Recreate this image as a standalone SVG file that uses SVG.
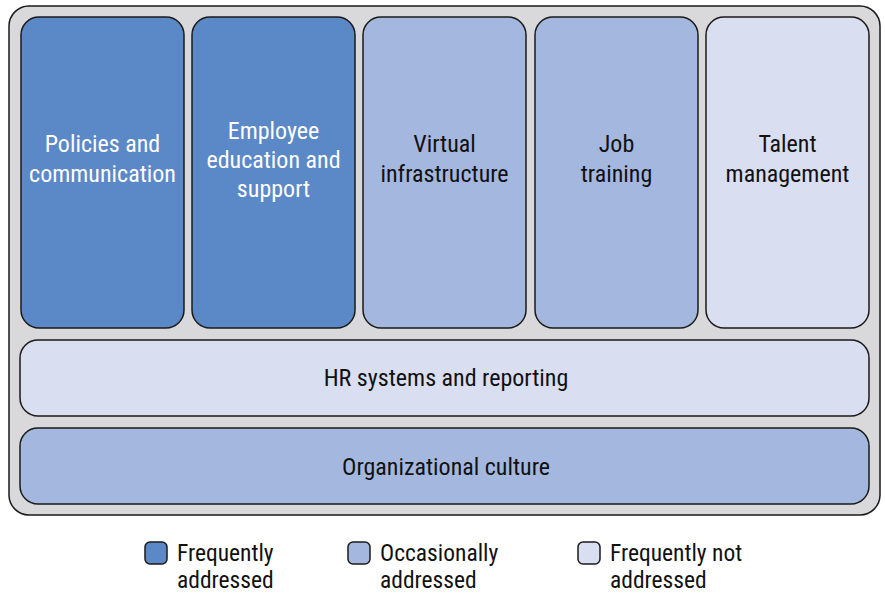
<svg xmlns="http://www.w3.org/2000/svg" width="885" height="594" viewBox="0 0 885 594">
<style>
.box{stroke:#1a1a1a;stroke-width:1.5}
.d{fill:#5b88c6}.m{fill:#a4b8df}.l{fill:#d9def1}
text{font-family:"Liberation Sans Narrow","Roboto Condensed","Liberation Sans",sans-serif;font-size:24px;text-anchor:middle}
.w{fill:#ffffff}.k{fill:#111111}
.lg{text-anchor:start;font-size:23.5px}
</style>
<rect x="9" y="6" width="871" height="509" rx="20" fill="#d9d9db" stroke="#1a1a1a" stroke-width="1.5"/>
<g id="policies"><rect class="box d" x="21" y="17" width="163" height="311" rx="18"/><text class="w" x="102.5" y="152">Policies and</text><text class="w" x="102.5" y="182">communication</text></g>
<g id="employee"><rect class="box d" x="192" y="17" width="163" height="311" rx="18"/><text class="w" x="273.5" y="139">Employee</text><text class="w" x="273.5" y="168">education and</text><text class="w" x="273.5" y="197">support</text></g>
<g id="virtual"><rect class="box m" x="363" y="17" width="163" height="311" rx="18"/><text class="k" x="444.5" y="152">Virtual</text><text class="k" x="444.5" y="182">infrastructure</text></g>
<g id="job"><rect class="box m" x="535" y="17" width="163" height="311" rx="18"/><text class="k" x="616.5" y="152">Job</text><text class="k" x="616.5" y="182">training</text></g>
<g id="talent"><rect class="box l" x="706" y="17" width="163" height="311" rx="18"/><text class="k" x="787.5" y="152">Talent</text><text class="k" x="787.5" y="182">management</text></g>
<g id="hr"><rect class="box l" x="20" y="340" width="849" height="76" rx="18"/><text class="k" x="446" y="386">HR systems and reporting</text></g>
<g id="culture"><rect class="box m" x="20" y="428" width="849" height="76" rx="18"/><text class="k" x="446" y="475">Organizational culture</text></g>
<g id="legend">
<rect class="box d" x="145" y="542" width="22" height="22" rx="5"/><text class="k lg" x="177" y="561">Frequently</text><text class="k lg" x="177" y="588">addressed</text>
<rect class="box m" x="348" y="542" width="22" height="22" rx="5"/><text class="k lg" x="380" y="561">Occasionally</text><text class="k lg" x="380" y="588">addressed</text>
<rect class="box l" x="578" y="542" width="22" height="22" rx="5"/><text class="k lg" x="610" y="561">Frequently not</text><text class="k lg" x="610" y="588">addressed</text>
</g>
<g id="connectors"/>
</svg>
